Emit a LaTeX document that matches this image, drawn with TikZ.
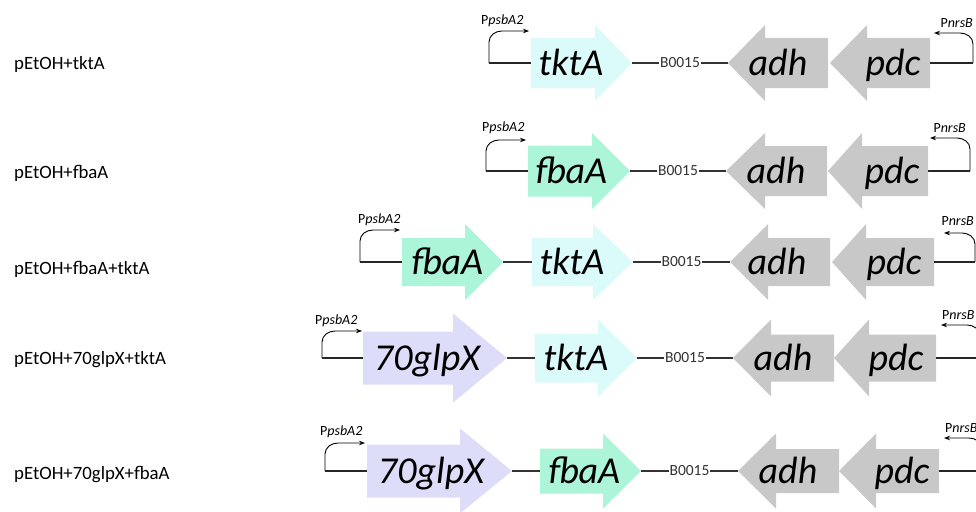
\documentclass[tikz,border=0pt]{standalone}
\usepackage{fontspec}
\setmainfont{Carlito}
\usetikzlibrary{arrows.meta}
\definecolor{ctkt}{RGB}{219,251,251}
\definecolor{cfba}{RGB}{172,245,216}
\definecolor{cglp}{RGB}{221,221,249}
\definecolor{cgray}{RGB}{200,200,200}
\newcommand\gene[8]{%
  \fill[#8] (#2,#5-#6) -- (#3,#5-#6) -- (#3,#5-#7) -- (#4,#5) -- (#3,#5+#7) -- (#3,#5+#6) -- (#2,#5+#6) -- cycle;
  \coordinate (#1-a) at (#2,#5);
  \coordinate (#1-b) at (#4,#5);}
\newcommand\promL[5]{%
  \coordinate (#1) at (#2,#3);
  \draw[bent] (#1) -- (#2,#4+11) to[out=90,in=180] (#2+13,#4) -- (#5,#4);}
\newcommand\promR[5]{%
  \coordinate (#1) at (#2,#3);
  \draw[bent] (#1) -- (#2,#4+11) to[out=90,in=0] (#2-13,#4) -- (#5,#4);}
\tikzset{
  bent/.style={line width=0.9pt,-{Stealth[length=6pt,width=4.5pt]}},
  bbthick/.style={line width=2pt,black!85},
  bb/.style={line width=1.1pt,black!80},
  term/.style={fill=white,inner sep=0.6pt,font=\fontsize{15.5}{16}\selectfont},
  gtxt/.style={anchor=base,inner sep=0pt,font=\fontsize{38}{40}\selectfont\itshape},
  rowlab/.style={anchor=base west,inner sep=0pt,font=\fontsize{18.8}{20}\selectfont},
  plab/.style={inner sep=0pt,font=\fontsize{14}{15}\selectfont},
}
\begin{document}
\begin{tikzpicture}[x=1pt,y=-1pt]
\useasboundingbox (0,0) rectangle (976,511);
\clip (0,0) rectangle (976,511);
% row labels
\node[rowlab] (l1) at (14,70) {pEtOH+tktA};
\node[rowlab] (l2) at (14,178) {pEtOH+fbaA};
\node[rowlab] (l3) at (14,274) {pEtOH+fbaA+tktA};
\node[rowlab] (l4) at (14,364) {pEtOH+70glpX+tktA};
\node[rowlab] (l5) at (14,479) {pEtOH+70glpX+fbaA};
% ===== Row 1 =====
\gene{r1g1}{531}{595}{632}{63}{25}{38}{ctkt}
\gene{r1adh}{828}{765}{728}{63}{25}{38}{cgray}
\gene{r1pdc}{930}{867}{830}{63}{25}{38}{cgray}
\node[gtxt] (r1t1) at (571,75) {tktA};
\node[gtxt] (r1t2) at (778,75) {adh};
\node[gtxt] (r1t3) at (893,75) {pdc};
\promL{r1p}{489}{63}{31}{529}
\promR{r1q}{973}{63}{33}{934}
\draw[bbthick] (r1p) -- (r1g1-a);
\draw[bbthick] (r1pdc-a) -- (r1q);
\draw[bb] (r1g1-b) -- node[term] (r1term) {B0015} (r1adh-b);
\node[plab,anchor=west] (r1pl) at (481,21) {P\textit{psbA2}};
\node[plab,anchor=east] (r1ql) at (973,23) {P\textit{nrsB}};
% ===== Row 2 =====
\gene{r2g1}{528}{592}{630}{171}{25.5}{38}{cfba}
\gene{r2adh}{827}{765}{726}{171}{25}{38}{cgray}
\gene{r2pdc}{928}{862}{828}{171}{25}{38}{cgray}
\node[gtxt] (r2t1) at (571,183) {fbaA};
\node[gtxt] (r2t2) at (776,183) {adh};
\node[gtxt] (r2t3) at (892,183) {pdc};
\promL{r2p}{486}{171}{140}{526}
\promR{r2q}{970}{171}{138}{930}
\draw[bbthick] (r2p) -- (r2g1-a);
\draw[bbthick] (r2pdc-a) -- (r2q);
\draw[bb] (r2g1-b) -- node[term] (r2term) {B0015} (r2adh-b);
\node[plab,anchor=west] (r2pl) at (482,128) {P\textit{psbA2}};
\node[plab,anchor=east] (r2ql) at (966,128) {P\textit{nrsB}};
% ===== Row 3 =====
\gene{r3g1}{402}{465}{503}{262}{24}{38}{cfba}
\gene{r3g2}{532}{593}{633}{262}{24}{38}{ctkt}
\gene{r3adh}{830}{768}{730}{262}{24}{38}{cgray}
\gene{r3pdc}{934}{866}{832}{262}{24}{38}{cgray}
\node[gtxt] (r3t1) at (447,274) {fbaA};
\node[gtxt] (r3t2) at (572,274) {tktA};
\node[gtxt] (r3t3) at (777,274) {adh};
\node[gtxt] (r3t4) at (894,274) {pdc};
\promL{r3p}{360}{262}{230}{400}
\promR{r3q}{975}{262}{233}{944}
\draw[bbthick] (r3p) -- (r3g1-a);
\draw[bbthick] (r3pdc-a) -- (r3q);
\draw[bb] (r3g1-b) -- (r3g2-a);
\draw[bb] (r3g2-b) -- node[term] (r3term) {B0015} (r3adh-b);
\node[plab,anchor=west] (r3pl) at (358,220) {P\textit{psbA2}};
\node[plab,anchor=east] (r3ql) at (974,221) {P\textit{nrsB}};
% ===== Row 4 =====
\gene{r4g1}{363}{453}{507}{358}{26.5}{44.5}{cglp}
\gene{r4g2}{535}{598}{637}{358}{24.5}{38.5}{ctkt}
\gene{r4adh}{834}{771}{733}{358}{23.5}{38.5}{cgray}
\gene{r4pdc}{936}{869}{834}{358}{23.5}{38.5}{cgray}
\node[gtxt] (r4t1) at (427,370) {70glpX};
\node[gtxt] (r4t2) at (576,370) {tktA};
\node[gtxt] (r4t3) at (783,370) {adh};
\node[gtxt] (r4t4) at (896,370) {pdc};
\promL{r4p}{322}{358}{331}{362}
\promR{r4q}{980}{358}{325}{941}
\draw[bbthick] (r4p) -- (r4g1-a);
\draw[bbthick] (r4pdc-a) -- (r4q);
\draw[bb] (r4g1-b) -- (r4g2-a);
\draw[bb] (r4g2-b) -- node[term] (r4term) {B0015} (r4adh-b);
\node[plab,anchor=west] (r4pl) at (315,321) {P\textit{psbA2}};
\node[plab,anchor=west] (r4ql) at (942,315) {P\textit{nrsB}};
% ===== Row 5 =====
\gene{r5g1}{367}{460}{512}{471}{26.5}{42.5}{cglp}
\gene{r5g2}{540}{603}{641}{471}{22.5}{37.5}{cfba}
\gene{r5adh}{839}{776}{738}{471}{22}{37.5}{cgray}
\gene{r5pdc}{939}{876}{839}{471}{22}{37.5}{cgray}
\node[gtxt] (r5t1) at (431,483) {70glpX};
\node[gtxt] (r5t2) at (584,483) {fbaA};
\node[gtxt] (r5t3) at (788,483) {adh};
\node[gtxt] (r5t4) at (902,483) {pdc};
\promL{r5p}{325}{471}{443}{365}
\promR{r5q}{982}{471}{438}{944}
\draw[bbthick] (r5p) -- (r5g1-a);
\draw[bbthick] (r5pdc-a) -- (r5q);
\draw[bb] (r5g1-b) -- (r5g2-a);
\draw[bb] (r5g2-b) -- node[term] (r5term) {B0015} (r5adh-b);
\node[plab,anchor=west] (r5pl) at (320,432) {P\textit{psbA2}};
\node[plab,anchor=west] (r5ql) at (945,428) {P\textit{nrsB}};
\end{tikzpicture}
\end{document}
